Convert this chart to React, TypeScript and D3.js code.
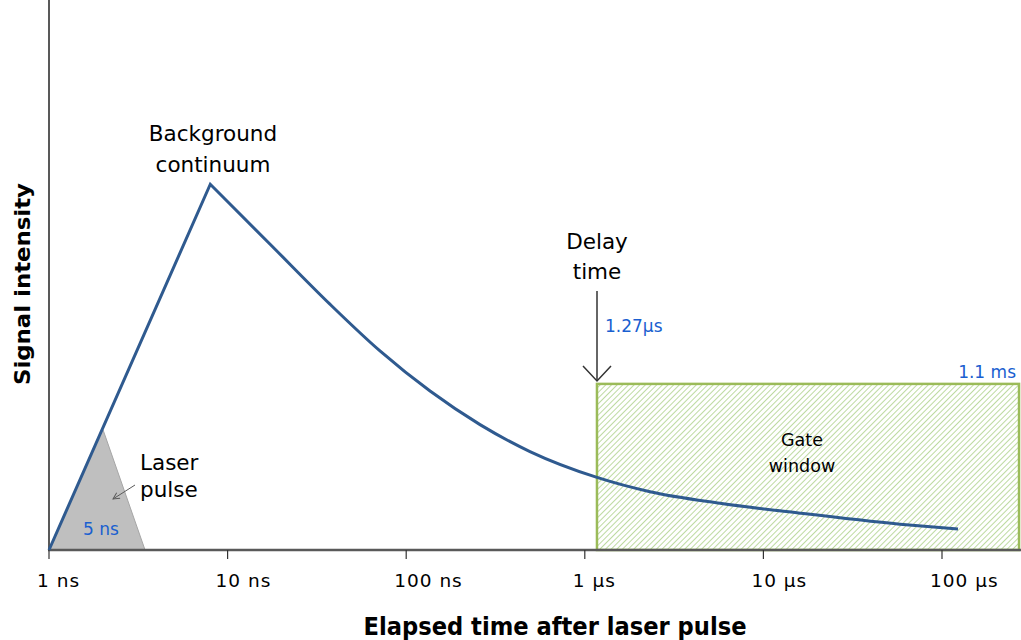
import React from "react";
import * as d3 from "d3";

// ---- data (time in ns, intensity in arbitrary units 0..100) ----
const tickValues = [1, 10, 100, 1000, 10000, 100000];
const tickLabels = ["1 ns", "10 ns", "100 ns", "1 µs", "10 µs", "100 µs"];

const riseTimes = [1, 8];
const riseValues = [0, 66.5];

const decayTimes = [8, 17.3, 37.4, 71.3, 136, 259, 493, 1170, 2318, 5715, 16030, 58200, 122900];
const decayValues = [66.5, 55.6, 44.7, 36.2, 28.9, 22.8, 17.9, 13.2, 10.6, 8.5, 6.7, 4.7, 3.8];

const laserTimes = [1, 2.01, 3.45];
const laserValues = [0, 21.8, 0];

const gateStart = 1170; // ns
const gateEnd = 270000; // ns
const gateLevel = 30.2;

const W = 1021;
const H = 640;

export default function App() {
  const x = d3.scaleLog().domain([1, 100000]).range([49, 942]);
  const y = d3.scaleLinear().domain([0, 100]).range([550, 0]);

  const rise = riseTimes.map((t, i) => [x(t), y(riseValues[i])] as [number, number]);
  const decay = decayTimes.map((t, i) => [x(t), y(decayValues[i])] as [number, number]);
  const risePath = d3.line().curve(d3.curveLinear)(rise) || "";
  const decayPath = d3.line().curve(d3.curveMonotoneX)(decay) || "";
  const curvePath = risePath + decayPath.replace(/^M/, "L");

  const laser = laserTimes.map((t, i) => [x(t), y(laserValues[i])] as [number, number]);
  const laserPath = (d3.line()(laser) || "") + "Z";
  const laserEdge = d3.line()(laser.slice(1)) || "";

  const gx0 = x(gateStart);
  const gx1 = x(gateEnd);
  const gy = y(gateLevel);
  const y0 = y(0);

  const blue = "#1a5fd0";
  const font = "Tahoma, Verdana, 'DejaVu Sans', sans-serif";
  const axisColor = "#595959";
  const ink = "#000";

  return (
    <svg
      width={W}
      height={H}
      style={{ position: "absolute", left: 0, top: 0, background: "#fff" }}
      fontFamily={font}
    >
      <defs>
        <pattern id="hatch" width="4" height="4" patternUnits="userSpaceOnUse" patternTransform="rotate(45)">
          <rect width="4" height="4" fill="#ffffff" />
          <line x1="0" y1="0" x2="0" y2="4" stroke="#add189" strokeWidth="1.6" />
        </pattern>
        <marker id="arrSmall" viewBox="0 0 10 10" refX="9" refY="5" markerWidth="8" markerHeight="8" orient="auto">
          <path d="M1,1 L9,5 L1,9" fill="none" stroke="#595959" strokeWidth="1.2" />
        </marker>
      </defs>

      {/* gate window */}
      <rect x={gx0} y={gy} width={gx1 - gx0} height={y0 - gy} fill="url(#hatch)" stroke="#9bbb59" strokeWidth={2.5} />

      {/* laser pulse */}
      <path d={laserPath} fill="#bfbfbf" stroke="none" />
      <path d={laserEdge} fill="none" stroke="#a6a6a6" strokeWidth={1} />

      {/* axes */}
      <line x1={49} y1={0} x2={49} y2={y0} stroke={axisColor} strokeWidth={2} />
      <line x1={48} y1={y0} x2={W} y2={y0} stroke={axisColor} strokeWidth={2.5} />
      {tickValues.map((t, i) => (
        <g key={t}>
          <line x1={x(t)} x2={x(t)} y1={y0} y2={y0 + 9} stroke="#333" strokeWidth={1.2} />
          <text x={x(t) - 12} y={587} fontSize={18.5} fill={ink} textAnchor="start" letterSpacing={1}>
            {tickLabels[i]}
          </text>
        </g>
      ))}

      {/* signal curve */}
      <path d={curvePath} fill="none" stroke="#2f5a8f" strokeWidth={3} strokeLinejoin="miter" />

      {/* axis titles */}
      <text x={555} y={635} fontSize={24} fontWeight="bold" textAnchor="middle" fill={ink} textLength={383} lengthAdjust="spacingAndGlyphs">
        Elapsed time after laser pulse
      </text>
      <text
        transform="translate(30,284) rotate(-90)"
        fontSize={22}
        fontWeight="bold"
        textAnchor="middle"
        fill={ink}
        textLength={202}
        lengthAdjust="spacingAndGlyphs"
      >
        Signal intensity
      </text>

      {/* annotations */}
      <text x={213} y={141} fontSize={21.5} textAnchor="middle" fill={ink}>Background</text>
      <text x={213} y={172} fontSize={21.5} textAnchor="middle" fill={ink}>continuum</text>

      <text x={597} y={249} fontSize={21.5} textAnchor="middle" fill={ink}>Delay</text>
      <text x={597} y={279} fontSize={21.5} textAnchor="middle" fill={ink}>time</text>
      <line x1={597} y1={291} x2={597} y2={381} stroke="#333" strokeWidth={1.5} />
      <path d="M583,366 L597,381 L611,366" fill="none" stroke="#333" strokeWidth={1.5} />
      <text x={605} y={332} fontSize={17} fill={blue}>1.27µs</text>

      <text x={1016} y={378} fontSize={17} textAnchor="end" fill={blue}>1.1 ms</text>

      <text x={802} y={446} fontSize={17.5} textAnchor="middle" fill={ink}>Gate</text>
      <text x={802} y={472} fontSize={17.5} textAnchor="middle" fill={ink}>window</text>

      <text x={140} y={470} fontSize={21.5} fill={ink}>Laser</text>
      <text x={140} y={497} fontSize={21.5} fill={ink}>pulse</text>
      <line x1={135} y1={485} x2={113} y2={499} stroke="#595959" strokeWidth={1} markerEnd="url(#arrSmall)" />
      <text x={83} y={535} fontSize={17} fill={blue}>5 ns</text>
    </svg>
  );
}
